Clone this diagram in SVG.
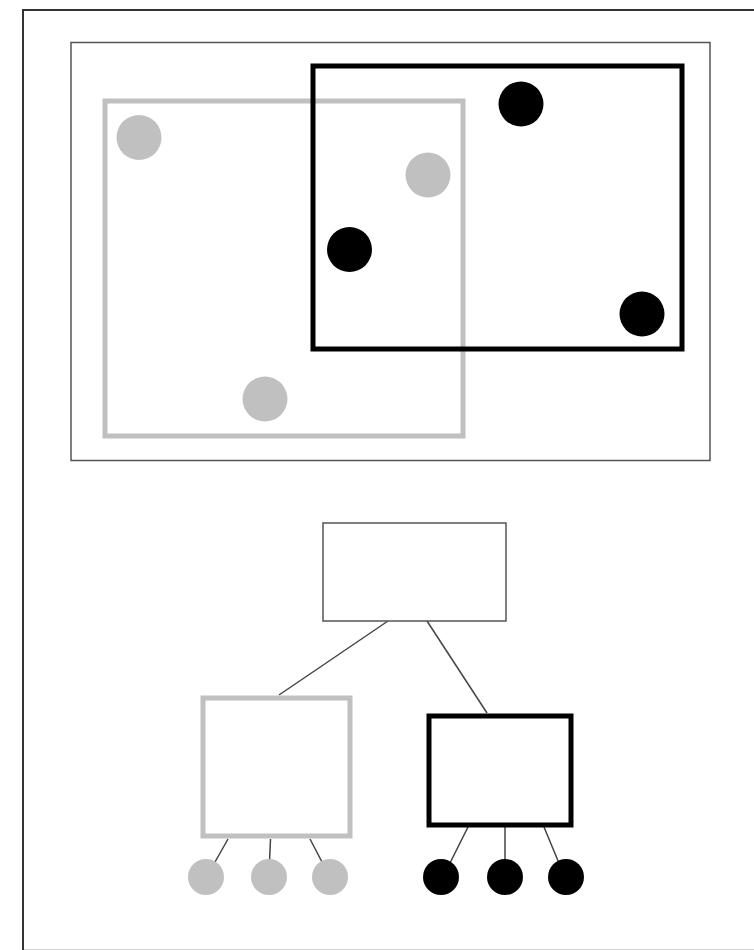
<svg xmlns="http://www.w3.org/2000/svg" width="754" height="950" viewBox="0 0 754 950">
<style>
.frame{fill:none;stroke:#333;stroke-width:2}
.thin{fill:none;stroke:#555;stroke-width:1.5}
.gbox{fill:none;stroke:#c0c0c0;stroke-width:5}
.bbox{fill:none;stroke:#000;stroke-width:5}
.gdot{fill:#c0c0c0}
.bdot{fill:#000}
.edge{stroke:#444;stroke-width:1.5;fill:none}
</style>
<rect x="0" y="0" width="754" height="950" fill="#fff"/>
<rect class="frame" x="23" y="10" width="740" height="940.8"/>
<g id="venn-panel">
<rect class="thin" x="71" y="42.5" width="639" height="418"/>
<g id="gray-set">
<rect class="gbox" x="105" y="101" width="358" height="335"/>
<circle class="gdot" cx="139" cy="137.5" r="22.5"/>
<circle class="gdot" cx="428" cy="175" r="22.5"/>
<circle class="gdot" cx="265" cy="399" r="22.5"/>
</g>
<g id="black-set">
<rect class="bbox" x="313" y="66" width="369" height="283"/>
<circle class="bdot" cx="521" cy="104" r="22.5"/>
<circle class="bdot" cx="349.5" cy="249.5" r="22.5"/>
<circle class="bdot" cx="642" cy="314" r="22.5"/>
</g>
</g>
<g id="connectors">
<line class="edge" x1="388" y1="621" x2="279" y2="695"/>
<line class="edge" x1="427" y1="621" x2="487" y2="713"/>
<line class="edge" x1="228" y1="839" x2="215" y2="862"/>
<line class="edge" x1="270.5" y1="839" x2="269.5" y2="862"/>
<line class="edge" x1="310" y1="839" x2="322" y2="862"/>
<line class="edge" x1="468" y1="827" x2="450.5" y2="862"/>
<line class="edge" x1="505" y1="827" x2="505" y2="862"/>
<line class="edge" x1="544" y1="827" x2="558.5" y2="862"/>
</g>
<g id="root-node"><rect class="thin" x="323" y="523" width="183" height="98"/></g>
<g id="gray-node"><rect class="gbox" x="203" y="698" width="147" height="138"/></g>
<g id="black-node"><rect class="bbox" x="429" y="716" width="142" height="109"/></g>
<g id="gray-leaf-1"><circle class="gdot" cx="206" cy="877" r="18"/></g>
<g id="gray-leaf-2"><circle class="gdot" cx="269" cy="877" r="18"/></g>
<g id="gray-leaf-3"><circle class="gdot" cx="330" cy="877" r="18"/></g>
<g id="black-leaf-1"><circle class="bdot" cx="441" cy="877" r="18"/></g>
<g id="black-leaf-2"><circle class="bdot" cx="505" cy="877" r="18"/></g>
<g id="black-leaf-3"><circle class="bdot" cx="566" cy="877" r="18"/></g>
</svg>
